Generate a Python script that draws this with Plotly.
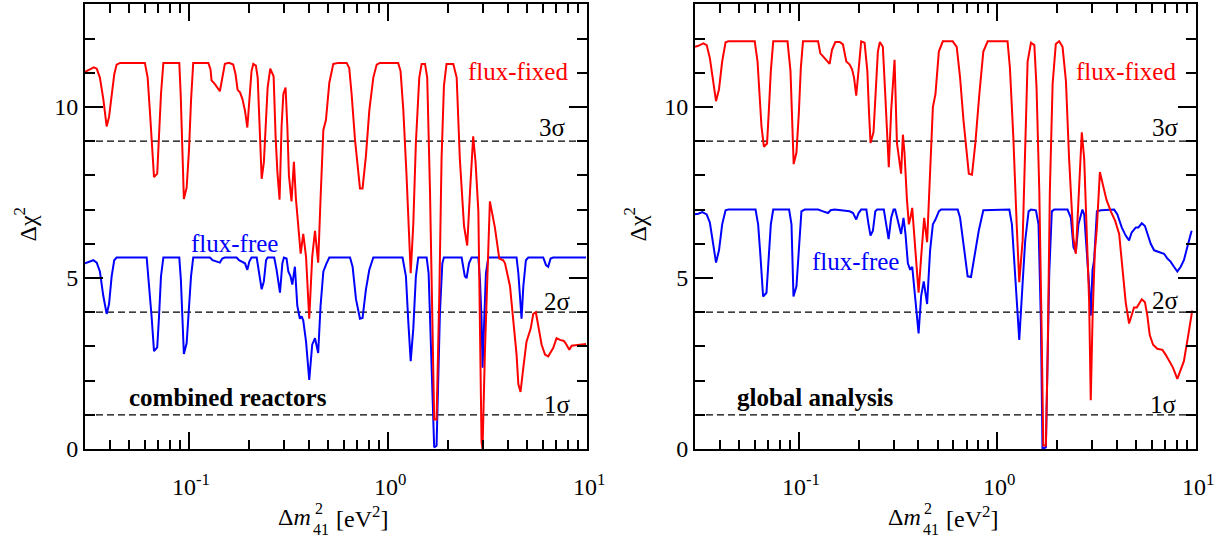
import numpy as np
import plotly.graph_objects as go

# ---------------- data ----------------
# x values are read as log10(Δm²41 / eV²) positions on the log axis
comb_fixed_logm = [-1.523,-1.498,-1.478,-1.464,-1.448,-1.431,-1.414,-1.402,-1.389,-1.376,
    -1.364,-1.347,-1.222,-1.208,-1.196,-1.188,-1.176,-1.160,-1.151,-1.141,
    -1.129,-1.049,-1.042,-1.034,-1.026,-1.012,-1.000,-0.990,-0.979,-0.903,
    -0.892,-0.887,-0.870,-0.845,-0.833,-0.820,-0.799,-0.778,-0.766,-0.756,
    -0.744,-0.732,-0.719,-0.707,-0.697,-0.686,-0.677,-0.664,-0.655,-0.647,
    -0.635,-0.624,-0.615,-0.605,-0.592,-0.575,-0.565,-0.556,-0.545,-0.535,
    -0.526,-0.515,-0.506,-0.498,-0.485,-0.473,-0.463,-0.451,-0.439,-0.426,
    -0.412,-0.396,-0.381,-0.367,-0.351,-0.339,-0.325,-0.312,-0.295,-0.275,
    -0.250,-0.208,-0.195,-0.183,-0.166,-0.141,-0.128,-0.111,-0.094,-0.074,
    -0.057,-0.041,0.051,0.063,0.077,0.093,0.114,0.127,0.140,0.157,
    0.169,0.186,0.197,0.211,0.224,0.232,0.244,0.258,0.269,0.281,
    0.294,0.328,0.345,0.361,0.382,0.398,0.412,0.428,0.440,0.454,
    0.470,0.475,0.487,0.500,0.512,0.537,0.559,0.579,0.588,0.613,
    0.629,0.646,0.655,0.666,0.680,0.696,0.717,0.730,0.743,0.755,
    0.772,0.789,0.805,0.830,0.847,0.864,0.884,0.897,0.911,0.923,
    0.948,0.973,0.995]
comb_fixed_chi2 = [11.03,11.10,11.16,11.12,10.86,10.24,9.43,9.71,10.29,10.95,
    11.24,11.29,11.29,10.86,9.81,8.95,7.95,8.05,9.14,10.38,
    11.29,11.29,10.38,8.76,7.31,7.64,8.76,10.19,11.29,11.29,
    11.10,10.78,10.67,10.46,10.86,11.26,11.29,11.24,10.95,10.50,
    10.43,10.24,9.90,9.40,10.19,11.05,11.26,11.21,10.86,9.43,
    7.90,8.38,9.52,10.57,11.12,10.90,9.14,8.10,7.29,9.43,
    10.38,10.57,9.43,8.00,7.24,8.40,7.33,6.57,5.71,6.29,
    5.62,3.81,5.62,6.38,5.45,7.33,9.33,9.62,10.71,11.26,
    11.29,11.29,11.14,10.38,9.05,7.62,7.62,8.57,9.90,10.86,
    11.24,11.29,11.29,11.05,9.90,8.00,5.14,6.57,8.95,10.86,
    11.26,11.26,10.86,7.52,3.71,0.86,0.86,4.57,8.48,10.62,
    11.26,11.26,10.86,8.48,6.52,5.95,7.52,9.14,8.38,6.95,
    0.20,0.00,2.86,5.14,7.24,6.48,5.57,5.52,5.43,4.76,
    3.81,2.76,1.90,1.67,2.38,3.14,3.52,3.95,4.00,3.62,
    3.05,2.76,2.71,2.95,3.24,3.19,3.16,3.05,2.90,3.02,
    3.03,3.05,3.07]

comb_free_logm = [-1.523,-1.498,-1.481,-1.464,-1.448,-1.431,-1.414,-1.402,-1.389,-1.376,
    -1.364,-1.213,-1.201,-1.188,-1.176,-1.160,-1.151,-1.141,-1.129,-1.049,
    -1.041,-1.034,-1.026,-1.012,-1.000,-0.990,-0.979,-0.895,-0.882,-0.861,
    -0.845,-0.833,-0.820,-0.761,-0.749,-0.719,-0.707,-0.697,-0.686,-0.660,
    -0.649,-0.635,-0.624,-0.613,-0.605,-0.572,-0.560,-0.543,-0.531,-0.523,
    -0.510,-0.501,-0.490,-0.481,-0.468,-0.456,-0.443,-0.434,-0.426,-0.412,
    -0.396,-0.381,-0.367,-0.351,-0.339,-0.325,-0.309,-0.295,-0.191,-0.178,
    -0.161,-0.141,-0.128,-0.111,-0.094,-0.074,0.073,0.090,0.102,0.114,
    0.127,0.140,0.152,0.194,0.204,0.214,0.224,0.232,0.244,0.253,
    0.261,0.273,0.281,0.370,0.378,0.386,0.395,0.407,0.420,0.454,
    0.462,0.470,0.475,0.484,0.492,0.504,0.646,0.655,0.663,0.671,
    0.680,0.693,0.705,0.780,0.794,0.805,0.817,0.830,0.995]
comb_free_chi2 = [5.43,5.48,5.52,5.45,5.19,4.48,3.95,4.24,5.05,5.52,
    5.60,5.60,4.86,3.86,2.86,2.97,3.86,5.05,5.60,5.60,
    4.95,3.86,2.78,3.10,4.10,5.05,5.60,5.60,5.52,5.48,
    5.45,5.57,5.60,5.60,5.52,5.43,5.24,5.48,5.60,5.60,
    5.24,4.67,4.90,5.52,5.60,5.60,5.24,4.57,5.43,5.60,
    5.57,5.19,5.05,4.81,5.33,4.19,3.81,3.88,3.76,3.14,
    2.02,3.05,3.24,2.81,4.19,5.19,5.43,5.60,5.60,5.33,
    4.38,3.81,3.83,4.67,5.24,5.60,5.60,5.05,3.71,2.57,
    3.52,5.05,5.60,5.60,5.14,3.24,1.33,0.05,0.10,1.81,
    4.00,5.43,5.60,5.60,5.24,5.05,5.00,5.43,5.60,5.60,
    4.95,3.81,2.38,3.81,5.14,5.60,5.60,5.14,4.29,3.81,
    4.76,5.52,5.60,5.60,5.38,5.33,5.57,5.60,5.60]

glob_fixed_logm = [-1.523,-1.506,-1.481,-1.464,-1.448,-1.431,-1.417,-1.402,-1.386,-1.369,
    -1.355,-1.222,-1.208,-1.196,-1.188,-1.176,-1.160,-1.151,-1.141,-1.129,
    -1.057,-1.042,-1.034,-1.026,-1.012,-1.000,-0.990,-0.979,-0.903,-0.892,
    -0.878,-0.861,-0.845,-0.833,-0.816,-0.794,-0.778,-0.761,-0.744,-0.732,
    -0.722,-0.711,-0.699,-0.686,-0.669,-0.655,-0.647,-0.639,-0.624,-0.615,
    -0.602,-0.592,-0.577,-0.565,-0.555,-0.547,-0.535,-0.525,-0.518,-0.506,
    -0.493,-0.485,-0.476,-0.468,-0.456,-0.446,-0.438,-0.429,-0.418,-0.397,
    -0.384,-0.369,-0.354,-0.339,-0.325,-0.312,-0.295,-0.275,-0.225,-0.205,
    -0.188,-0.171,-0.144,-0.128,-0.111,-0.091,-0.071,-0.049,0.051,0.063,
    0.080,0.097,0.110,0.127,0.140,0.152,0.169,0.186,0.197,0.211,
    0.222,0.231,0.244,0.253,0.264,0.278,0.294,0.311,0.328,0.345,
    0.361,0.382,0.395,0.408,0.425,0.437,0.445,0.454,0.462,0.470,
    0.479,0.490,0.501,0.516,0.532,0.549,0.571,0.593,0.613,0.626,
    0.633,0.646,0.663,0.675,0.688,0.702,0.713,0.727,0.743,0.755,
    0.767,0.784,0.805,0.831,0.847,0.864,0.884,0.906,0.923,0.939,
    0.961,0.981]
glob_fixed_chi2 = [11.76,11.79,11.86,11.81,11.43,10.67,10.17,10.52,11.33,11.89,
    11.92,11.92,11.33,10.19,9.43,8.84,8.93,9.90,11.05,11.92,
    11.92,11.05,9.62,8.33,8.67,9.81,11.14,11.92,11.92,11.57,
    11.48,11.38,11.26,11.67,11.90,11.90,11.83,11.33,11.24,11.10,
    10.86,10.33,11.10,11.92,11.88,11.05,9.90,8.95,9.26,10.38,
    11.62,11.90,11.76,10.38,9.14,8.24,9.90,10.95,11.38,8.95,
    8.38,8.05,9.19,8.67,7.33,6.57,6.76,7.05,6.19,4.57,
    5.62,6.76,6.05,8.19,10.00,10.38,11.62,11.92,11.92,11.76,
    10.86,9.62,8.05,8.02,8.95,10.38,11.62,11.92,11.92,11.14,
    9.14,6.57,4.88,6.10,8.48,11.33,11.88,11.81,10.57,7.52,
    3.71,0.10,0.10,2.76,7.52,10.67,11.84,11.92,11.76,10.76,
    8.48,6.19,5.71,7.33,9.26,8.48,7.24,5.52,4.29,1.43,
    3.81,5.71,6.48,8.10,7.71,7.29,6.95,6.67,6.29,5.52,
    5.05,4.29,3.67,3.90,4.14,4.14,4.24,4.38,4.29,3.90,
    3.33,3.05,2.93,2.90,2.76,2.57,2.38,2.05,2.29,2.57,
    3.33,4.05]

glob_free_logm = [-1.523,-1.506,-1.486,-1.464,-1.448,-1.431,-1.417,-1.402,-1.386,-1.369,
    -1.355,-1.218,-1.205,-1.193,-1.180,-1.163,-1.151,-1.141,-1.129,-1.049,
    -1.037,-1.027,-1.012,-1.000,-0.987,-0.970,-0.903,-0.878,-0.853,-0.840,
    -0.820,-0.744,-0.727,-0.711,-0.699,-0.686,-0.660,-0.649,-0.639,-0.627,
    -0.615,-0.605,-0.572,-0.560,-0.548,-0.535,-0.523,-0.515,-0.506,-0.493,
    -0.485,-0.473,-0.463,-0.451,-0.439,-0.429,-0.418,-0.409,-0.397,-0.384,
    -0.371,-0.354,-0.339,-0.325,-0.312,-0.295,-0.284,-0.200,-0.188,-0.171,
    -0.150,-0.133,-0.111,-0.094,-0.071,0.060,0.073,0.090,0.110,0.127,
    0.140,0.157,0.169,0.194,0.207,0.219,0.227,0.244,0.253,0.261,
    0.274,0.286,0.353,0.370,0.383,0.395,0.408,0.428,0.437,0.454,
    0.462,0.470,0.479,0.487,0.501,0.521,0.588,0.604,0.626,0.646,
    0.663,0.676,0.697,0.710,0.727,0.743,0.755,0.772,0.789,0.810,
    0.839,0.856,0.872,0.889,0.906,0.923,0.939,0.956,0.978]
glob_free_chi2 = [6.86,6.88,6.93,6.86,6.62,6.00,5.45,5.81,6.57,6.98,
    7.00,7.00,6.57,5.62,4.46,4.57,5.62,6.57,7.00,7.00,
    6.57,4.46,4.76,5.81,6.95,7.00,7.00,6.95,6.90,6.98,
    7.00,6.95,6.90,6.71,6.90,7.00,7.00,6.57,6.24,6.38,
    6.95,7.00,7.00,6.57,6.14,6.76,7.00,7.00,6.76,6.48,
    6.29,6.76,6.29,5.43,5.24,5.33,4.67,4.10,3.38,4.48,
    4.90,4.24,5.81,6.57,6.71,6.95,7.00,7.00,6.76,6.00,
    5.05,5.03,5.81,6.38,6.98,7.00,6.57,5.14,3.19,4.86,
    6.10,6.95,7.00,6.98,6.57,3.71,0.00,0.05,2.76,5.14,
    6.95,7.00,7.00,6.76,5.90,5.76,6.57,7.00,6.86,5.52,
    4.76,3.90,5.24,5.52,6.95,6.98,7.00,6.86,6.48,6.24,
    6.10,6.33,6.48,6.48,6.60,6.52,6.29,6.00,5.81,5.76,
    5.71,5.57,5.48,5.33,5.19,5.33,5.52,5.90,6.38]

sigma_levels = [1, 4, 9]
sigma_labels = ["1σ", "2σ", "3σ"]
dm2_limits = [0.03, 10]
chi2_limits = [0, 13]
x_major_ticks = [0.1, 1, 10]
x_major_text = ["10<sup>-1</sup>", "10<sup>0</sup>", "10<sup>1</sup>"]
y_major_ticks = [0, 5, 10]
panel_titles = ["combined reactors", "global analysis"]

# ---------------- layout geometry ----------------
W, H = 1227, 545
PANELS = [(85, 587), (695, 1196)]
Y_TOP, Y_BOT = 4.5, 460
FONT = "Liberation Serif"
RED, BLUE = "#ff0000", "#0000ff"
LOG_RANGE = [np.log10(dm2_limits[0]), np.log10(dm2_limits[1])]

def px_x(p):
    return p / W

def px_y(p):
    return (H - p) / H

fig = go.Figure()

panel_data = [
    (comb_fixed_logm, comb_fixed_chi2, comb_free_logm, comb_free_chi2),
    (glob_fixed_logm, glob_fixed_chi2, glob_free_logm, glob_free_chi2),
]

minor_x = [m * 10.0 ** e for e in (-2, -1, 0) for m in range(2, 10)]
minor_x = [v for v in minor_x if dm2_limits[0] < v < dm2_limits[1] and v not in x_major_ticks]

for i, (fl, fc, bl, bc) in enumerate(panel_data):
    xa = "x" if i == 0 else "x2"
    ya = "y" if i == 0 else "y2"
    for lvl in sigma_levels:
        fig.add_trace(go.Scatter(x=dm2_limits, y=[lvl, lvl], mode="lines",
                                 line=dict(color="black", width=1.3, dash="7px,4px"),
                                 xaxis=xa, yaxis=ya, showlegend=False, hoverinfo="skip"))
    fig.add_trace(go.Scatter(x=10 ** np.array(bl), y=bc, mode="lines",
                             line=dict(color=BLUE, width=2), xaxis=xa, yaxis=ya,
                             showlegend=False))
    fig.add_trace(go.Scatter(x=10 ** np.array(fl), y=fc, mode="lines",
                             line=dict(color=RED, width=2), xaxis=xa, yaxis=ya,
                             showlegend=False))

axis_common = dict(showline=True, linecolor="black", linewidth=2, mirror="ticks",
                   ticks="inside", tickcolor="black", tickwidth=1.5,
                   showgrid=False, zeroline=False,
                   tickfont=dict(family=FONT, size=24, color="black"))

layout = dict(width=W, height=H, autosize=False,
              margin=dict(l=0, r=0, t=0, b=0),
              paper_bgcolor="white", plot_bgcolor="white",
              font=dict(family=FONT, color="black"),
              showlegend=False)

for i, (x0, x1) in enumerate(PANELS):
    sfx = "" if i == 0 else "2"
    layout["xaxis" + sfx] = dict(axis_common, type="log", range=LOG_RANGE,
        domain=[px_x(x0), px_x(x1)], anchor="y" + sfx,
        tickmode="array", tickvals=x_major_ticks, ticklen=17,
        showticklabels=False,
        minor=dict(tickmode="array", tickvals=minor_x, ticks="inside", ticklen=9,
                   tickwidth=1.5, tickcolor="black", showgrid=False))
    layout["yaxis" + sfx] = dict(axis_common, range=chi2_limits,
        domain=[px_y(Y_BOT), px_y(Y_TOP)], anchor="x" + sfx,
        tickmode="array", tickvals=y_major_ticks, ticklen=18,
        minor=dict(dtick=1, ticks="inside", ticklen=10, tickwidth=1.5,
                   tickcolor="black", showgrid=False))

fig.update_layout(**layout)

ann = []
def txt(text, x, y, xref, yref, size=25, color="black", xanchor="center",
        yanchor="middle", angle=0):
    ann.append(dict(text=text, x=x, y=y, xref=xref, yref=yref, showarrow=False,
                    xanchor=xanchor, yanchor=yanchor, textangle=angle,
                    font=dict(family=FONT, size=size, color=color)))

# in-plot labels (data coords; x in log10 units)
label_pos = [
    dict(fixed=(0.914, 11.05), free=(-0.774, 6.0), title=(-0.804, 1.51),
         sig=[(0.929, 1.31), (0.929, 4.31), (0.904, 9.4)]),
    dict(fixed=(0.909, 11.05), free=(-0.714, 5.48), title=(-0.915, 1.51),
         sig=[(0.914, 1.31), (0.924, 4.34), (0.924, 9.4)]),
]
for i, lp in enumerate(label_pos):
    xr = "x" if i == 0 else "x2"
    yr = "y" if i == 0 else "y2"
    x0, x1 = PANELS[i]
    txt("flux-fixed", lp["fixed"][0], lp["fixed"][1], xr, yr, color=RED, xanchor="right")
    txt("flux-free", lp["free"][0], lp["free"][1], xr, yr, color=BLUE)
    txt("<b>" + panel_titles[i] + "</b>", lp["title"][0], lp["title"][1], xr, yr)
    for (sx, sy), s in zip(lp["sig"], sigma_labels):
        txt(s, sx, sy, xr, yr, xanchor="right")

    # x tick labels (10^n), placed at the tick values along the log axis
    for v, t in zip(x_major_ticks, x_major_text):
        frac = (np.log10(v) - LOG_RANGE[0]) / (LOG_RANGE[1] - LOG_RANGE[0])
        txt(t, frac + 2.0 / (x1 - x0), px_y(497), xr + " domain", "paper", size=24)

    # axis titles built in pieces so that the super/subscripts stack
    cx = (x0 + x1) / 2
    txt("Δ<i>m</i>", px_x(cx - 23), px_y(530), "paper", "paper", size=24, xanchor="right")
    txt("2", px_x(cx - 23.5), px_y(521), "paper", "paper", size=16, xanchor="left")
    txt("41", px_x(cx - 24.5), px_y(542), "paper", "paper", size=16, xanchor="left")
    txt("[eV<sup>2</sup>]", px_x(cx - 2), px_y(530), "paper", "paper", size=24, xanchor="left")
    txt("Δχ<sup>2</sup>", px_x(x0 - 60), px_y(230), "paper", "paper", size=24, angle=-90)

fig.update_layout(annotations=ann)
# remove the default 8px page margin so the figure sits at the window origin
fig.write_html("out.html", config={"displayModeBar": False},
               post_script="document.body.style.margin='0';document.body.style.overflow='hidden';")
